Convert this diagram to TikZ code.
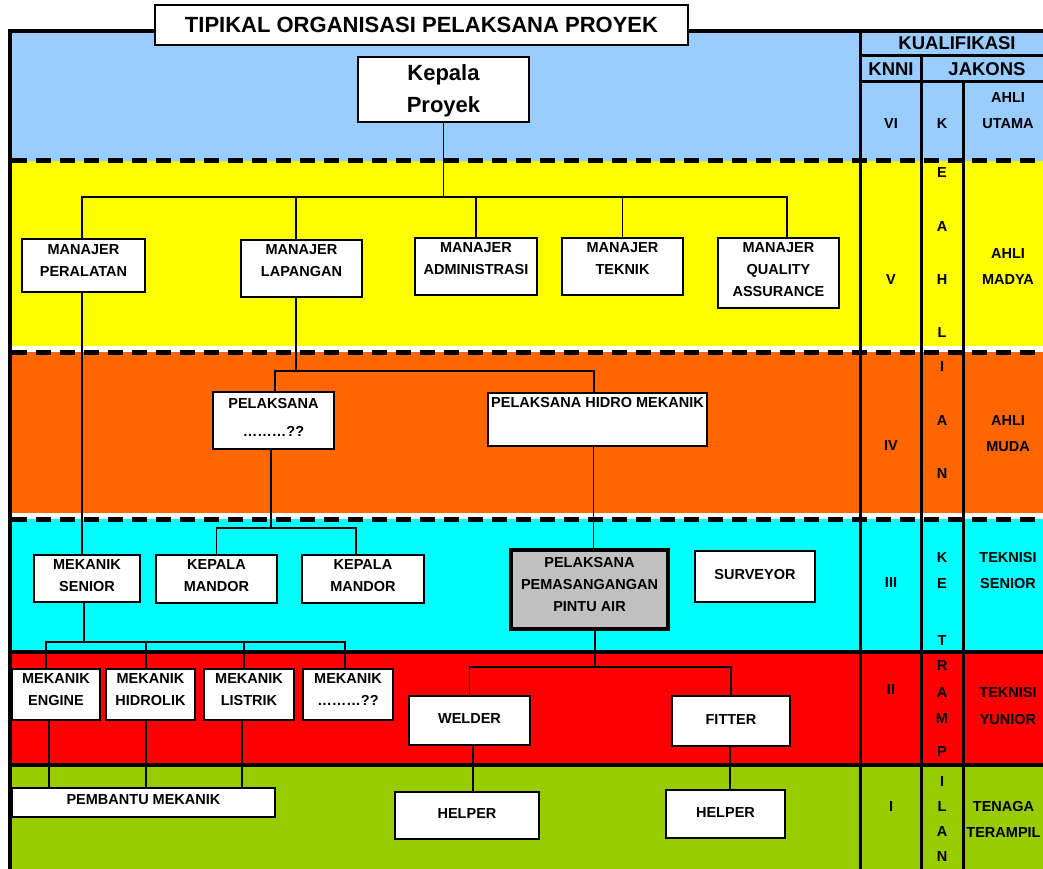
\documentclass[tikz,border=0pt]{standalone}
\usepackage{fontspec}
\setmainfont{Liberation Sans}
\definecolor{cblue}{HTML}{99CCFF}
\definecolor{cyel}{HTML}{FFFF00}
\definecolor{corg}{HTML}{FF6600}
\definecolor{ccyan}{HTML}{00FFFF}
\definecolor{cred}{HTML}{FF0000}
\definecolor{cgreen}{HTML}{99CC00}
\definecolor{cgray}{HTML}{C0C0C0}
\tikzset{
  box/.style={draw=black, fill=white, line width=1.3pt, inner sep=0pt},
  graybox/.style={draw=black, fill=cgray, line width=3.5pt, inner sep=0pt},
  txt/.style={font=\fontsize{14.5}{22}\selectfont\bfseries, align=center, inner sep=0pt},
  rtxt/.style={font=\fontsize{14.5}{26}\selectfont\bfseries, align=center, inner sep=0pt},
  hdr/.style={font=\fontsize{18.5}{22}\selectfont\bfseries, inner sep=0pt},
  big/.style={font=\fontsize{22}{32}\selectfont\bfseries, align=center, inner sep=0pt},
  conn/.style={line width=1.3pt},
  dashline/.style={line width=5pt, dash pattern=on 15pt off 9pt},
  frameline/.style={line width=4pt},
  colline/.style={line width=3pt}
}
\begin{document}
\begin{tikzpicture}[x=1pt, y=-1pt]
\useasboundingbox (0,0) rectangle (1043,869);
\clip (0,0) rectangle (1043,869);
% bands
\fill[cblue] (12,31) rectangle (1043,161);
\fill[cyel] (12,161) rectangle (1043,346);
\fill[corg] (12,352) rectangle (1043,513);
\fill[ccyan] (12,519) rectangle (1043,652);
\fill[cred] (12,652) rectangle (1043,765);
\fill[cgreen] (12,765) rectangle (1043,869);
% separators
\draw[dashline] (12,161) -- (1043,161);
\draw[dashline] (12,352) -- (1043,352);
\draw[dashline] (12,519) -- (1043,519);
\draw[frameline] (10,652) -- (1043,652);
\draw[frameline] (10,765) -- (1043,765);
% frame
\draw[frameline] (10,869) -- (10,31) -- (1043,31);
% qualification columns
\draw[colline] (860,31) -- (860,869);
\draw[colline] (921,56) -- (921,869);
\draw[colline] (963,82) -- (963,869);
\draw[colline] (860,56) -- (1043,56);
\draw[colline] (860,82) -- (1043,82);

% title
\node[box, minimum width=533pt, minimum height=40pt] (title) at (421.5,25) {};
\node[big] (titlet) at (421.5,25) {TIPIKAL ORGANISASI PELAKSANA PROYEK};

% header texts
\node[hdr] (hq) at (957,43) {KUALIFIKASI};
\node[hdr] (hk) at (891,69) {KNNI};
\node[hdr] (hj) at (987,69) {JAKONS};

% roman numerals
\node[txt] (r6) at (891,124) {VI};
\node[txt] (r5) at (891,280) {V};
\node[txt] (r4) at (891,446) {IV};
\node[txt] (r3) at (891,583) {III};
\node[txt] (r2) at (891,690) {II};
\node[txt] (r1) at (891,807) {I};

% vertical letters
\node[txt] (v0) at (942,124) {K};
\foreach \L/\Y [count=\i] in {E/173,A/227,H/280,L/333,I/367,A/421,N/474,K/558,E/584,T/641,R/666,A/693,M/719,P/752,I/782,L/807,A/832,N/857}
  \node[txt] (v\i) at (942,\Y) {\L};

% jakons levels
\node[rtxt] (j6) at (1008,110.5) {AHLI\\UTAMA};
\node[rtxt] (j5) at (1008,267) {AHLI\\MADYA};
\node[rtxt] (j4) at (1008,434) {AHLI\\MUDA};
\node[rtxt] (j3) at (1008,571) {TEKNISI\\SENIOR};
\node[rtxt] (j2) at (1008,706) {TEKNISI\\YUNIOR};
\node[rtxt] (j1) at (1003.5,819.5) {TENAGA\\TERAMPIL};

% boxes
\node[box, minimum width=171pt, minimum height=65pt] (kp) at (443.5,89.5) {};
\node[big] (kpt) at (443.5,91) {Kepala\\Proyek};

\node[box, minimum width=123pt, minimum height=53pt] (mp) at (83.5,265.5) {};
\node[txt] (mpt) at (83.5,260.5) {MANAJER\\PERALATAN};
\node[box, minimum width=121pt, minimum height=57pt] (ml) at (301.5,268.5) {};
\node[txt] (mlt) at (301.5,261) {MANAJER\\LAPANGAN};
\node[box, minimum width=122pt, minimum height=57pt] (ma) at (476,266.5) {};
\node[txt] (mat) at (476,259) {MANAJER\\ADMINISTRASI};
\node[box, minimum width=121pt, minimum height=57pt] (mt) at (622.5,266.5) {};
\node[txt] (mtt) at (622.5,259) {MANAJER\\TEKNIK};
\node[box, minimum width=121pt, minimum height=70pt] (mq) at (778.5,273) {};
\node[txt] (mqt) at (778.5,270) {MANAJER\\QUALITY\\ASSURANCE};

\node[box, minimum width=121pt, minimum height=57pt] (pq) at (273.5,420.5) {};
\node[txt] (pqt) at (273.5,417) {PELAKSANA\\[6pt]………??};
\node[box, minimum width=219pt, minimum height=53pt] (phm) at (597.5,419.5) {};
\node[txt] (phmt) at (597.5,403) {PELAKSANA HIDRO MEKANIK};

\node[box, minimum width=106pt, minimum height=47pt] (msn) at (87,578.5) {};
\node[txt] (msnt) at (87,576) {MEKANIK\\SENIOR};
\node[box, minimum width=121pt, minimum height=48pt] (km1) at (216.5,579) {};
\node[txt] (km1t) at (216.5,576) {KEPALA\\MANDOR};
\node[box, minimum width=122pt, minimum height=48pt] (km2) at (363,579) {};
\node[txt] (km2t) at (363,576) {KEPALA\\MANDOR};
\node[graybox, minimum width=157pt, minimum height=79pt] (ppa) at (589.5,589.5) {};
\node[txt] (ppat) at (589.5,584.5) {PELAKSANA\\PEMASANGANGAN\\PINTU AIR};
\node[box, minimum width=120pt, minimum height=51pt] (sv) at (755,576.5) {};
\node[txt] (svt) at (755,575) {SURVEYOR};

\node[box, minimum width=88pt, minimum height=51pt] (me) at (56,694.5) {};
\node[txt] (met) at (56,690) {MEKANIK\\ENGINE};
\node[box, minimum width=89pt, minimum height=51pt] (mh) at (150.5,694.5) {};
\node[txt] (mht) at (150.5,690) {MEKANIK\\HIDROLIK};
\node[box, minimum width=90pt, minimum height=51pt] (mli) at (249,694.5) {};
\node[txt] (mlit) at (249,690) {MEKANIK\\LISTRIK};
\node[box, minimum width=90pt, minimum height=51pt] (mx) at (348,694.5) {};
\node[txt] (mxt) at (348,690) {MEKANIK\\………??};
\node[box, minimum width=121pt, minimum height=49pt] (w) at (469.5,720.5) {};
\node[txt] (wt) at (469.5,719) {WELDER};
\node[box, minimum width=118pt, minimum height=50pt] (f) at (731,721) {};
\node[txt] (ft) at (731,720) {FITTER};

\node[box, minimum width=263pt, minimum height=29pt] (pm) at (143.5,802.5) {};
\node[txt] (pmt) at (143.5,800) {PEMBANTU MEKANIK};
\node[box, minimum width=144pt, minimum height=47pt] (h1) at (467,815.5) {};
\node[txt] (h1t) at (467,814) {HELPER};
\node[box, minimum width=119pt, minimum height=48pt] (h2) at (725.5,814) {};
\node[txt] (h2t) at (725.5,813) {HELPER};

% connectors
\coordinate (b1) at (0,197);
\coordinate (b2) at (0,371);
\coordinate (b3) at (0,528);
\coordinate (b4) at (0,667);
\coordinate (b5) at (0,642);

\draw[conn] (kp.south) -- (kp.south |- b1);
\draw[conn] ([xshift=-1.5pt]mp.north) -- ([xshift=-1.5pt]mp.north |- b1) -- ([xshift=8.5pt]mq.north |- b1) -- ([xshift=8.5pt]mq.north);
\draw[conn] ([xshift=-5.5pt]ml.north) -- ([xshift=-5.5pt]ml.north |- b1);
\draw[conn] (ma.north) -- (ma.north |- b1);
\draw[conn] (mt.north) -- (mt.north |- b1);

\draw[conn] ([xshift=-1.5pt]mp.south) -- ([xshift=-1.5pt]mp.south |- msn.north);

\draw[conn] ([xshift=-5.5pt]ml.south) -- ([xshift=-5.5pt]ml.south |- b2);
\draw[conn] ([xshift=1.5pt]pq.north) -- ([xshift=1.5pt]pq.north |- b2) -- ([xshift=-3.5pt]phm.north |- b2) -- ([xshift=-3.5pt]phm.north);

\draw[conn] ([xshift=-2.5pt]pq.south) -- ([xshift=-2.5pt]pq.south |- b3);
\draw[conn] (km1.north) -- (km1.north |- b3) -- ([xshift=-7pt]km2.north |- b3) -- ([xshift=-7pt]km2.north);

\draw[conn] ([xshift=-4pt]phm.south) -- ([xshift=-4pt]phm.south |- ppa.north);

\draw[conn] ([xshift=5.5pt]ppa.south) -- ([xshift=5.5pt]ppa.south |- b4);
\draw[conn] (w.north) -- (w.north |- b4) -- (f.north |- b4) -- (f.north);
\draw[conn] ([xshift=3.5pt]w.south) -- ([xshift=3.5pt]w.south |- h1.north);
\draw[conn] ([xshift=-1pt]f.south) -- ([xshift=-1pt]f.south |- h2.north);

\draw[conn] ([xshift=-3pt]msn.south) -- ([xshift=-3pt]msn.south |- b5);
\draw[conn] ([xshift=-10pt]me.north) -- ([xshift=-10pt]me.north |- b5) -- ([xshift=-3pt]mx.north |- b5) -- ([xshift=-3pt]mx.north);
\draw[conn] ([xshift=-4.5pt]mh.north) -- ([xshift=-4.5pt]mh.north |- b5);
\draw[conn] ([xshift=-5pt]mli.north) -- ([xshift=-5pt]mli.north |- b5);

\draw[conn] ([xshift=-7pt]me.south) -- ([xshift=-7pt]me.south |- pm.north);
\draw[conn] ([xshift=-4.5pt]mh.south) -- ([xshift=-4.5pt]mh.south |- pm.north);
\draw[conn] ([xshift=-7pt]mli.south) -- ([xshift=-7pt]mli.south |- pm.north);
\end{tikzpicture}
\end{document}
